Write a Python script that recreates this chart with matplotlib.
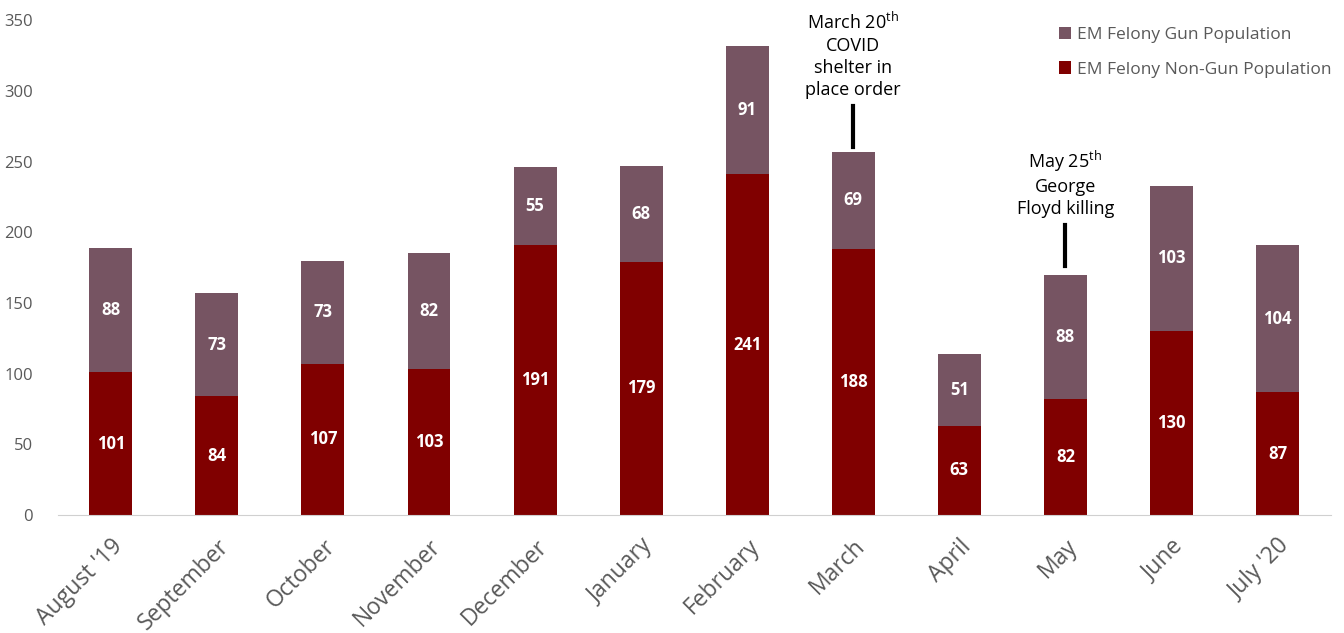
import matplotlib.pyplot as plt
import numpy as np

months = ["August '19", "September", "October", "November", "December", "January",
          "February", "March", "April", "May", "June", "July '20"]
non_gun = [101, 84, 107, 103, 191, 179, 241, 188, 63, 82, 130, 87]
gun = [88, 73, 73, 82, 55, 68, 91, 69, 51, 88, 103, 104]

plt.rcParams['font.family'] = ['Open Sans', 'DejaVu Sans']

c_gun = '#765462'
c_non = '#800000'
grey = '#595959'

fig = plt.figure(figsize=(13.44, 6.33), dpi=100)
ax = fig.add_axes([0.043, 0.1864, 0.947, 0.7816])

x = np.arange(len(months))
w = 0.405
b1 = ax.bar(x, non_gun, w, color=c_non, label='EM Felony Non-Gun Population')
b2 = ax.bar(x, gun, w, bottom=non_gun, color=c_gun, label='EM Felony Gun Population')

# value labels in the middle of each segment
for i in range(len(months)):
    ax.text(x[i], non_gun[i] / 2, str(non_gun[i]), ha='center', va='center',
            color='white', fontsize=12, fontweight='bold')
    ax.text(x[i], non_gun[i] + gun[i] / 2, str(gun[i]), ha='center', va='center',
            color='white', fontsize=12, fontweight='bold')

# event markers
ax.plot([7, 7], [260, 289], color='black', lw=3)
ax.text(7, 294, 'March 20$^{\\mathregular{th}}$\nCOVID\nshelter in\nplace order', ha='center',
        va='bottom', fontsize=13, color='black', linespacing=1.3)
ax.plot([9, 9], [176, 205], color='black', lw=3)
ax.text(9, 210, 'May 25$^{\\mathregular{th}}$\nGeorge\nFloyd killing', ha='center',
        va='bottom', fontsize=13, color='black', linespacing=1.3)

ax.set_xlim(-0.5, 11.5)
ax.set_ylim(0, 350)
ax.set_yticks(range(0, 351, 50))
ax.set_xticks(x)
ax.set_xticklabels(months, rotation=45, ha='right', rotation_mode='anchor',
                   fontsize=16.5, color=grey)
ax.tick_params(axis='y', labelsize=12, colors=grey, length=0, pad=18)
ax.tick_params(axis='x', length=0, pad=14)
for s in ['top', 'right', 'left']:
    ax.spines[s].set_visible(False)
ax.spines['bottom'].set_color('#d0d0d0')

leg = ax.legend(handles=[b2, b1], loc='upper right', bbox_to_anchor=(1.013, 1.018),
                frameon=False, fontsize=12.5, handlelength=0.7, handleheight=0.7,
                handletextpad=0.35, labelspacing=1.05)
for t in leg.get_texts():
    t.set_color(grey)

fig.savefig('out.png', dpi=100)
